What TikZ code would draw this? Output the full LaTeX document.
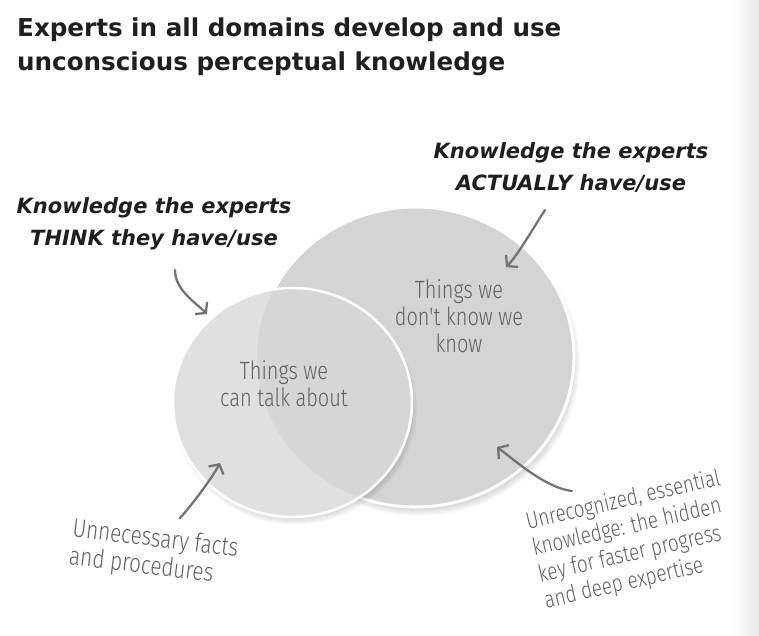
\documentclass[tikz,border=0pt]{standalone}
\usepackage{fontspec}
\setmainfont{DejaVu Sans}
\newfontfamily\handfont{Fira Sans Light}[FakeStretch=0.8]
\usetikzlibrary{arrows.meta}

\begin{document}
\begin{tikzpicture}[
  x=1pt,
  y=-1pt,
  title text/.style={font=\fontsize{24.6}{34}\selectfont\bfseries,
    text=black!88, align=left, inner sep=0pt, anchor=north west},
  expert label/.style={font=\fontsize{21}{32}\selectfont\bfseries\itshape,
    text=black!88, align=center, inner sep=0pt, anchor=north},
  hand text/.style={font=\handfont\fontsize{25}{27}\selectfont,
    text=black!62, inner sep=0pt},
  pointer/.style={draw=black!55, line width=2.3pt, line cap=round,
    -{Straight Barb[length=7pt,width=17pt]}}
]
  \useasboundingbox (0,0) rectangle (759,635);

  % Page gutter at the right edge of the scan.
  \shade[left color=white, right color=black!9] (733,0) rectangle (759,635);

  \node[title text] (title) at (17,17.5)
    {Experts in all domains develop and use\\unconscious perceptual knowledge};

  % Knowledge actually used: the larger set.
  \foreach \r in {0,...,9}
    \fill[black, opacity=0.02] (419,363)
      ellipse [x radius={(152+\r)*1pt}, y radius={(144+\r)*1pt}];
  \fill[black!17] (415.5,357) ellipse [x radius=158.5pt, y radius=150pt];
  \draw[white, line width=3pt] (415.5,357)
    ellipse [x radius=158.5pt, y radius=150pt];

  % Knowledge experts think they use, drawn on top.
  \foreach \r in {0,...,7}
    \fill[black, opacity=0.02] (295,408)
      ellipse [x radius={(115+\r)*1pt}, y radius={(110+\r)*1pt}];
  \fill[black!12] (292.5,402.5) ellipse [x radius=119.5pt, y radius=114.5pt];
  \begin{scope}
    \clip (292.5,402.5) ellipse [x radius=119.5pt, y radius=114.5pt];
    \fill[black!16] (415.5,357) ellipse [x radius=158.5pt, y radius=150pt];
  \end{scope}
  \draw[white, line width=2.5pt] (292.5,402.5)
    ellipse [x radius=119.5pt, y radius=114.5pt];

  % Headings of the two sets.
  \node[expert label] (think) at (154,197)
    {Knowledge the experts\\THINK they have/use};
  \node[expert label] (actually) at (571,142)
    {Knowledge the experts\\ACTUALLY have/use};

  % Hand-lettered notes.
  \node[hand text, align=center, anchor=north] (talk) at (284,360)
    {Things we\\can talk about};
  \node[hand text, align=center, anchor=north] (unknown) at (459,279)
    {Things we\\don't know we\\know};
  \node[hand text, align=left, anchor=north west, rotate=-7,
    font=\handfont\fontsize{26}{28}\selectfont] (unneeded) at (74,517)
    {Unnecessary facts\\and procedures};
  \node[hand text, align=left, anchor=north west, rotate=13,
    font=\handfont\fontsize{23.6}{27}\selectfont] (hidden) at (524,512)
    {Unrecognized, essential\\knowledge: the hidden\\key for faster progress\\and deep expertise};

  % Pointers.
  \coordinate (think tail) at (175,270);
  \coordinate (think tip) at (207,314);
  \coordinate (actually tail) at (545,210);
  \coordinate (actually tip) at (506,267);
  \coordinate (unneeded tail) at (180,518);
  \coordinate (unneeded tip) at (220,463);
  \coordinate (hidden tail) at (572,491);
  \coordinate (hidden tip) at (497,447);
  \draw[pointer] (think tail) .. controls (175,290) and (195,302) .. (think tip);
  \draw[pointer] (actually tail) .. controls (535,225) and (518,255) .. (actually tip);
  \draw[pointer] (unneeded tail) .. controls (192,505) and (212,478) .. (unneeded tip);
  \draw[pointer] (hidden tail) .. controls (545,488) and (512,458) .. (hidden tip);
\end{tikzpicture}
\end{document}
